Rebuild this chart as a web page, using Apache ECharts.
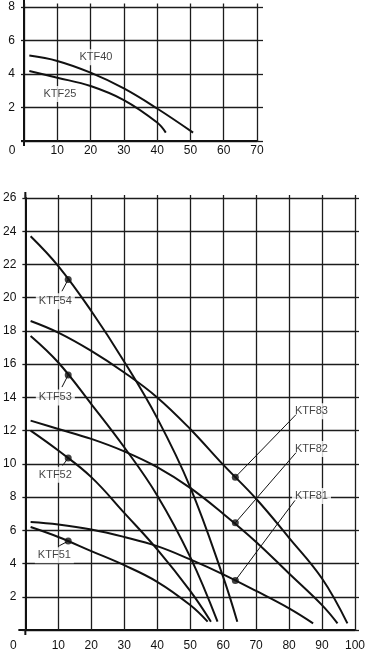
<!DOCTYPE html>
<html><head><meta charset="utf-8">
<script src="https://cdn.jsdelivr.net/npm/echarts@6/dist/echarts.min.js"></script>
<style>html,body{margin:0;padding:0;background:#fff}#c{width:368px;height:652px}</style>
</head><body><div id="c"></div>
<script>
// ---------- data: top chart ----------
const topXTicks = [0, 10, 20, 30, 40, 50, 60, 70];
const topYTicks = [0, 2, 4, 6, 8];
const ktf40 = [[1.6,5.1],[10,4.78],[20,4.08],[30,3.14],[40,1.94],[50.8,0.5]];
const ktf25 = [[1.6,4.18],[10,3.78],[20,3.28],[30,2.44],[40,1.1],[42.6,0.5]];

// ---------- data: bottom chart ----------
const botXTicks = [0, 10, 20, 30, 40, 50, 60, 70, 80, 90, 100];
const botYTicks = [0, 2, 4, 6, 8, 10, 12, 14, 16, 18, 20, 22, 24, 26];
const ktf54 = [[1.6,23.7],[10,21.9],[20,19.2],[30,16.15],[40,12.75],[50,8.6],[60,3.2],[64.3,0.5]];
const ktf53 = [[1.6,17.7],[10,16.1],[20,13.6],[30,11.0],[40,8.1],[50,4.4],[58.3,0.5]];
const ktf52 = [[1.6,12.0],[10,10.8],[20,9.2],[30,7.05],[40,4.85],[50,2.35],[56.3,0.5]];
const ktf51 = [[1.6,6.2],[10,5.6],[20,4.75],[30,3.9],[40,2.9],[50,1.5],[55.3,0.5]];
const ktf83 = [[1.6,18.6],[10,17.9],[20,16.8],[30,15.5],[40,14.0],[50,12.1],[60,9.95],[70,7.9],[80,5.55],[90,3.1],[97.7,0.4]];
const ktf82 = [[1.6,12.6],[10,12.1],[20,11.5],[30,10.75],[40,9.8],[50,8.55],[60,7.0],[70,5.3],[80,3.4],[90,1.5],[94.7,0.4]];
const ktf81 = [[1.6,6.5],[10,6.35],[20,6.05],[30,5.6],[40,5.05],[50,4.25],[60,3.35],[70,2.35],[80,1.3],[87.3,0.4]];
const dotPoints = [[13,5.35],[13,10.35],[13,15.35],[13,21.1],[63.7,2.98],[63.7,6.45],[63.7,9.2]];
const botNames = ['KTF51','KTF52','KTF53','KTF54','KTF81','KTF82','KTF83'];
const topNames = ['KTF40','KTF25'];

// ---------- annotation placement (text positions, in data units) ----------
const topLabelAt = [[21.6,5.0],[10.8,2.8]];
const botLabelAt = [[8.8,4.5],[9.1,9.35],[9.1,14.0],[9.1,19.79],[86.8,8.07],[86.8,10.9],[86.8,13.16]];
const leaderEnd  = [[10.3,5.07],[11.3,9.9],[11.1,14.62],[11.1,20.39],[81.8,7.8],[82.1,10.67],[82.1,12.96]];

const FONT = 'Liberation Sans, Arial, sans-serif';
const INK = '#111';
const GRIDC = '#1c1c1c';

function mainX(gi, max, margin) {
  return {
    type: 'value', gridIndex: gi, min: 0, max: max, interval: 10, position: 'bottom',
    axisLine: { show: true, onZero: false, lineStyle: { color: INK, width: 2 } },
    axisTick: { show: true, inside: true, length: 1, lineStyle: { color: GRIDC, width: 1.3 } },
    splitLine: { show: true, lineStyle: { color: GRIDC, width: 1.3 } },
    axisLabel: {
      margin: margin, fontSize: 12, fontFamily: FONT, color: INK,
      formatter: v => v === 0 ? '{o|0}' : String(v),
      rich: { o: { padding: [0, 24, 0, 0], fontSize: 12, fontFamily: FONT, color: INK } }
    }
  };
}
function topX(gi, max, len) {
  return {
    type: 'value', gridIndex: gi, min: 0, max: max, interval: 10, position: 'top',
    axisLine: { show: false, onZero: false },
    axisTick: { show: true, inside: false, length: len, lineStyle: { color: GRIDC, width: 1.3 } },
    axisLabel: { show: false }, splitLine: { show: false }
  };
}
function mainY(gi, max) {
  return {
    type: 'value', gridIndex: gi, min: 0, max: max, interval: 2, position: 'left',
    axisLine: { show: true, onZero: false, lineStyle: { color: INK, width: 2 } },
    axisTick: { show: true, inside: false, length: 3, lineStyle: { color: GRIDC, width: 1.3 } },
    splitLine: { show: true, lineStyle: { color: GRIDC, width: 1.3 } },
    axisLabel: { margin: 9, fontSize: 12, fontFamily: FONT, color: INK, formatter: v => v === 0 ? '' : String(v) }
  };
}
function rightY(gi, max, len) {
  return {
    type: 'value', gridIndex: gi, min: 0, max: max, interval: 2, position: 'right',
    axisLine: { show: false, onZero: false },
    axisTick: { show: true, inside: false, length: len, lineStyle: { color: GRIDC, width: 1.3 } },
    axisLabel: { show: false }, splitLine: { show: false }
  };
}

const xAxis = [ mainX(0, 70, 4), topX(0, 70, 3.5), mainX(1, 100, 10), topX(1, 100, 3) ];
const yAxis = [ mainY(0, 8), rightY(0, 8, 6), mainY(1, 26), rightY(1, 26, 4) ];
const TX = 0, TY = 0, BX = 2, BY = 2;

function curve(data, xi, yi) {
  return { type: 'line', xAxisIndex: xi, yAxisIndex: yi, data: data, smooth: 0.4,
    showSymbol: false, symbol: 'none', lineStyle: { color: INK, width: 2 }, z: 2, silent: true };
}
function labelStyle() {
  return { show: true, position: 'inside', formatter: p => p.name, color: INK, fontSize: 11,
    fontFamily: FONT, backgroundColor: '#fff', padding: [3, 3, 2, 3] };
}

const series = [];
series.push(curve(ktf40, TX, TY));
series.push(curve(ktf25, TX, TY));
series.push({ type: 'scatter', xAxisIndex: TX, yAxisIndex: TY, symbolSize: 1, itemStyle: { color: 'rgba(0,0,0,0)' },
  data: topNames.map((n, i) => ({ name: n, value: topLabelAt[i] })), label: labelStyle(), z: 3, silent: true });
[ktf51, ktf52, ktf53, ktf54, ktf81, ktf82, ktf83].forEach(d => series.push(curve(d, BX, BY)));
series.push({ type: 'scatter', xAxisIndex: BX, yAxisIndex: BY, symbolSize: 1, itemStyle: { color: 'rgba(0,0,0,0)' },
  data: botNames.map((n, i) => ({ name: n, value: botLabelAt[i] })), label: labelStyle(), z: 3, silent: true });
dotPoints.forEach((p, i) => series.push({ type: 'line', xAxisIndex: BX, yAxisIndex: BY, data: [p, leaderEnd[i]],
  symbol: 'none', showSymbol: false, lineStyle: { color: INK, width: 1 }, z: 4, silent: true }));
series.push({ type: 'scatter', xAxisIndex: BX, yAxisIndex: BY, data: dotPoints, symbol: 'circle', symbolSize: 7,
  itemStyle: { color: INK }, z: 5, silent: true });

const chart = echarts.init(document.getElementById('c'), null, { renderer: 'canvas' });
chart.setOption({
  animation: false,
  backgroundColor: '#fff',
  grid: [
    { left: 24, top: 7, width: 233, height: 134 },
    { left: 24, top: 198, width: 333.3, height: 434 }
  ],
  xAxis: xAxis,
  yAxis: yAxis,
  series: series
});

// small overshoot of the axis lines beyond the plot corners (as in the printed chart)
function overshoot(gi, ymax, up, down, left) {
  const f = { xAxisIndex: gi === 0 ? TX : BX, yAxisIndex: gi === 0 ? TY : BY };
  const o = chart.convertToPixel(f, [0, 0]);
  const t = chart.convertToPixel(f, [0, ymax]);
  const st = { stroke: INK, lineWidth: 2 };
  return [
    { type: 'line', shape: { x1: t[0], y1: t[1] - up, x2: t[0], y2: t[1] }, style: st, silent: true },
    { type: 'line', shape: { x1: o[0], y1: o[1], x2: o[0], y2: o[1] + down }, style: st, silent: true },
    { type: 'line', shape: { x1: o[0] - left, y1: o[1], x2: o[0], y2: o[1] }, style: st, silent: true }
  ];
}
chart.setOption({ graphic: overshoot(0, 8, 7, 5, 3).concat(overshoot(1, 26, 6, 5, 7)) });
</script></body></html>
